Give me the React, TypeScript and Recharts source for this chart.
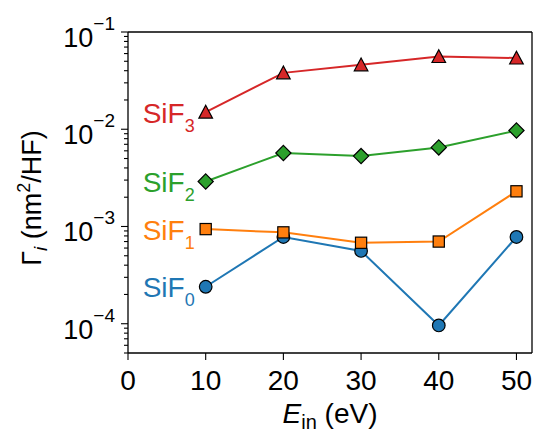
import React from 'react';
import { LineChart, Line, XAxis, YAxis, ReferenceLine, LabelList } from 'recharts';

// incident energy (eV)
const energies = [10, 20, 30, 40, 50];
// yields, nm^2 per HF
const sif0 = [0.00024, 0.00078, 0.00056, 0.000096, 0.00078];
const sif1 = [0.00094, 0.00087, 0.00068, 0.0007, 0.0023];
const sif2 = [0.0029, 0.0057, 0.0053, 0.0065, 0.0097];
const sif3 = [0.015, 0.038, 0.046, 0.056, 0.054];

const xTicks = [0, 10, 20, 30, 40, 50];
const yMajor = [1e-4, 1e-3, 1e-2, 1e-1];
const yExponents = ['−4', '−3', '−2', '−1'];
const yMinor = [5e-5, 6e-5, 7e-5, 8e-5, 9e-5]
  .concat([2, 3, 4, 5, 6, 7, 8, 9].flatMap(m => [m * 1e-4, m * 1e-3, m * 1e-2]));

const data = energies.map((e, i) => ({
  e,
  sif0: sif0[i],
  sif1: sif1[i],
  sif2: sif2[i],
  sif3: sif3[i],
}));

const FONT = '"Liberation Sans", Arial, sans-serif';
const BLUE = '#1f77b4';
const ORANGE = '#ff7f0e';
const GREEN = '#2ca02c';
const RED = '#d62728';

const Marker = (props: any) => {
  const { cx, cy, shape, fill } = props;
  if (cx == null || cy == null) return null;
  const common = { fill, stroke: '#000', strokeWidth: 1.2 };
  if (shape === 'circle') return <circle cx={cx} cy={cy} r={6.3} {...common} />;
  if (shape === 'square') return <rect x={cx - 5.6} y={cy - 5.6} width={11.2} height={11.2} {...common} />;
  if (shape === 'diamond') {
    const d = 7.6;
    return <polygon points={`${cx},${cy - d} ${cx + d},${cy} ${cx},${cy + d} ${cx - d},${cy}`} {...common} />;
  }
  return (
    <polygon
      points={`${cx},${cy - 6.8} ${cx + 6.8},${cy + 6} ${cx - 6.8},${cy + 6}`}
      {...common}
    />
  );
};

const dotFor = (shape: string, fill: string) => (p: any) => (
  <Marker key={`dot-${shape}-${p.index}`} cx={p.cx} cy={p.cy} shape={shape} fill={fill} />
);

const seriesLabel = (sub: string, color: string) => (p: any) => {
  if (p.index !== 0) return null;
  return (
    <text x={p.x - 11} y={p.y + 10.5} textAnchor="end" fill={color} fontFamily={FONT}>
      <tspan fontSize={28}>SiF</tspan>
      <tspan fontSize={18} dy={9}>{sub}</tspan>
    </text>
  );
};

const YTick = (props: any) => {
  const { x, y, payload } = props;
  const idx = yMajor.indexOf(payload.value);
  const major = idx >= 0;
  return (
    <g>
      <line x1={x} x2={x - (major ? 7 : 4)} y1={y} y2={y} stroke="#000" strokeWidth={1.1} />
      {major && (
        <text x={x - 13} y={y + 15} textAnchor="end" fill="#000" fontFamily={FONT}>
          <tspan fontSize={27}>10</tspan>
          <tspan fontSize={19} dy={-17}>{yExponents[idx]}</tspan>
        </text>
      )}
    </g>
  );
};

const XTick = (props: any) => {
  const { x, y, payload } = props;
  return (
    <text x={x} y={y + 30} textAnchor="middle" fill="#000" fontSize={28} fontFamily={FONT}>
      {payload.value}
    </text>
  );
};

const XTitle = (props: any) => {
  const vb = props.viewBox || { x: 128, y: 353, width: 404 };
  const cx = vb.x + vb.width / 2;
  return (
    <text x={cx} y={423} textAnchor="middle" fill="#000" fontFamily={FONT}>
      <tspan fontSize={28} fontStyle="italic">E</tspan>
      <tspan fontSize={20} dy={6}>in</tspan>
      <tspan fontSize={28} dy={-6}> (eV)</tspan>
    </text>
  );
};

const YTitle = (props: any) => {
  const vb = props.viewBox || { y: 32, height: 321 };
  const cy = vb.y + vb.height / 2 + 5.5;
  return (
    <text
      x={41}
      y={cy}
      transform={`rotate(-90 41 ${cy})`}
      textAnchor="middle"
      fill="#000"
      fontFamily={FONT}
    >
      <tspan fontSize={27}>Γ</tspan>
      <tspan fontSize={19} fontStyle="italic" dy={6}>i</tspan>
      <tspan fontSize={27} dy={-6}> (nm</tspan>
      <tspan fontSize={18} dy={-11}>2</tspan>
      <tspan fontSize={27} dy={11}>/HF)</tspan>
    </text>
  );
};

export default function App() {
  return (
    <div style={{ position: 'absolute', left: 0, top: 0, background: '#fff' }}>
      <LineChart width={539} height={438} data={data} margin={{ top: 32, right: 7, bottom: 0, left: 0 }}>
        <XAxis
          dataKey="e"
          type="number"
          domain={[0, 52]}
          ticks={xTicks}
          interval={0}
          allowDataOverflow
          tickSize={7}
          tickMargin={0}
          height={85}
          axisLine={{ stroke: '#000', strokeWidth: 1.3 }}
          tickLine={{ stroke: '#000', strokeWidth: 1.1 }}
          tick={<XTick />}
          label={{ content: <XTitle /> }}
        />
        <YAxis
          type="number"
          scale="log"
          domain={[5e-5, 0.1]}
          allowDataOverflow
          ticks={[...yMajor, ...yMinor]}
          interval={0}
          width={128}
          tickSize={0}
          tickMargin={0}
          tickLine={false}
          axisLine={{ stroke: '#000', strokeWidth: 1.3 }}
          tick={<YTick />}
          label={{ content: <YTitle /> }}
        />
        <ReferenceLine x={52} stroke="#000" strokeWidth={1.3} />
        <ReferenceLine y={0.1} stroke="#000" strokeWidth={1.3} />
        <Line dataKey="sif0" stroke={BLUE} strokeWidth={2} isAnimationActive={false}
          dot={dotFor('circle', BLUE)} activeDot={false}>
          <LabelList dataKey="sif0" content={seriesLabel('0', BLUE)} />
        </Line>
        <Line dataKey="sif1" stroke={ORANGE} strokeWidth={2} isAnimationActive={false}
          dot={dotFor('square', ORANGE)} activeDot={false}>
          <LabelList dataKey="sif1" content={seriesLabel('1', ORANGE)} />
        </Line>
        <Line dataKey="sif2" stroke={GREEN} strokeWidth={2} isAnimationActive={false}
          dot={dotFor('diamond', GREEN)} activeDot={false}>
          <LabelList dataKey="sif2" content={seriesLabel('2', GREEN)} />
        </Line>
        <Line dataKey="sif3" stroke={RED} strokeWidth={2} isAnimationActive={false}
          dot={dotFor('triangle', RED)} activeDot={false}>
          <LabelList dataKey="sif3" content={seriesLabel('3', RED)} />
        </Line>
      </LineChart>
    </div>
  );
}
